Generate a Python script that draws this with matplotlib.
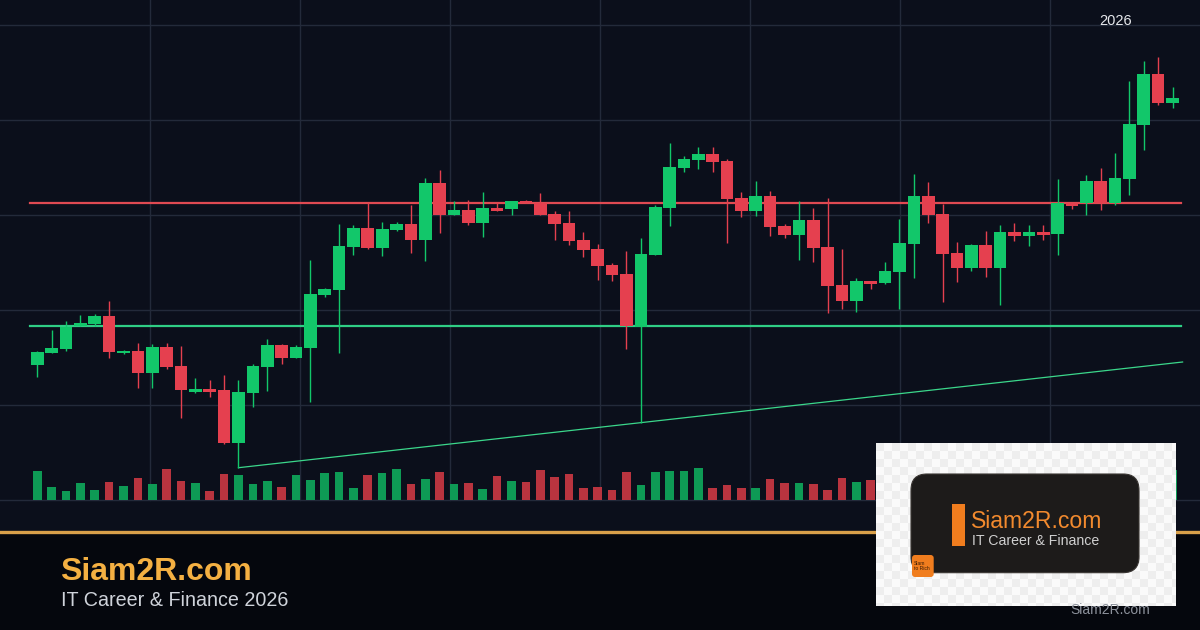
import matplotlib
matplotlib.use("Agg")
import matplotlib.pyplot as plt
import numpy as np
from matplotlib.patches import FancyBboxPatch, Rectangle
from matplotlib.lines import Line2D

plt.rcParams['font.family'] = ['Liberation Sans', 'DejaVu Sans']

# OHLC in chart price units (bottom of the volume strip = 0)
opens = [135.3, 147.3, 151.3, 174.3, 176.3, 184, 146.7, 149, 127.3, 153,
         134, 108.3, 111, 110, 57, 107.3, 133.3, 155, 142.3, 152.3,
         205.3, 210.3, 253.3, 272, 252.3, 270.3, 276, 260, 317, 285.3,
         290, 277.3, 292, 291.3, 299, 297, 286, 277.3, 260, 251,
         235, 226, 173.3, 244.7, 292.3, 332.3, 340, 346, 339, 302,
         289.3, 304, 274, 265.3, 280, 253, 215, 199.3, 219, 217,
         228, 256, 304, 286, 247, 232, 255, 232, 268, 264,
         268, 266, 297, 297, 319, 297, 321, 375, 426, 397.3]
highs = [149.3, 170, 178.7, 185.3, 186, 199, 150, 157.3, 155.7, 157.3,
         154, 121.7, 120, 125, 120, 135.7, 161, 156, 155, 240,
         212.3, 276, 275, 296.7, 278, 278, 295, 322, 330, 299,
         300, 308, 296.7, 299, 300, 307, 289, 289, 268, 256,
         236.7, 248.7, 262, 295, 356.7, 344, 353, 353, 341, 308,
         319, 309, 276.3, 299, 292, 302, 251, 222, 219, 238,
         281, 326, 318, 296, 258, 256, 269, 275, 277, 275,
         275, 321, 297, 325, 332, 347, 419, 439, 443, 413]
lows = [123.3, 146.7, 148.7, 174.3, 174.3, 142.3, 146, 112.3, 112.3, 131.3,
        82.3, 107.3, 103.3, 56, 32.3, 93.3, 109.3, 135.7, 142, 98.3,
        203.3, 147.3, 245, 251.3, 244.3, 269.3, 247.3, 239.3, 267.3, 285.3,
        275.3, 263.3, 289.3, 284.7, 297, 285.3, 260, 255.3, 243.3, 220.3,
        219.3, 151.3, 77.3, 244.7, 274.3, 328.3, 331.3, 328.3, 257.3, 283.3,
        284.3, 264.3, 262.3, 240.3, 238.3, 187.3, 191.3, 188.3, 211.3, 216,
        191.3, 222.3, 277, 198.3, 218.3, 229.3, 223.3, 195.3, 259, 254,
        260, 245, 291, 285, 290, 295, 305, 350, 395, 392]
closes = [148, 152, 173.3, 177, 184, 148.3, 149.3, 127.3, 152.7, 133.3,
          110.3, 111, 108.3, 57, 108, 134, 155, 142.3, 153, 206,
          211, 254, 272, 252, 271, 276, 260, 317, 285.3, 290,
          277.3, 292, 289.3, 299, 297, 285.3, 276.3, 259.3, 250.3, 234.3,
          225.3, 174.3, 246, 293, 333, 341, 346, 338, 301, 289.3,
          304, 273.3, 265.3, 280, 252.3, 214.3, 199.3, 219, 216.3, 229,
          257, 304, 285, 246, 232, 255, 232, 268, 264, 268,
          265, 297, 294, 319, 297, 322, 376, 426, 397, 402]
volumes = [29, 13, 9, 17, 10, 18, 14, 22, 16, 31,
           19, 17, 9, 26, 25, 16, 19, 13, 25, 20,
           27, 28, 12, 25, 27, 31, 16, 21, 28, 16,
           17, 11, 24, 19, 18, 30, 23, 26, 12, 13,
           10, 28, 15, 28, 29, 29, 32, 12, 15, 12,
           12, 21, 17, 17, 16, 10, 22, 18, 20, 14,
           22, 27, 20, 25, 16, 12, 15, 18, 24, 11,
           13, 10, 26, 12, 20, 17, 22, 30, 28, 30]

resistance = 297
support = 174
trend_x = [14, 79.7]
trend_y = [32.3, 138]

BG = '#0b0f1b'
FOOT = '#05070d'
GRID = '#232a3a'
UP = '#12c76a'
DOWN = '#e5404f'
VUP = '#0e9a55'
VDOWN = '#b9343f'

W, H = 1200, 630
fig = plt.figure(figsize=(12, 6.3), dpi=100, facecolor=BG)
fig.patches.append(Rectangle((0, 0), 1, 1 - 531 / H, transform=fig.transFigure,
                             facecolor=FOOT, edgecolor='none', zorder=0))

# price panel
ax = fig.add_axes([0, 1 - 530 / H, 1, 530 / H])
ax.set_facecolor(BG)
n = len(opens)
x = np.arange(n)
step = 14.37
x0 = -37.3 / step
x1 = x0 + W / step
ax.set_xlim(x0, x1)
ax.set_ylim(-30, 500)
for s in ax.spines.values():
    s.set_visible(False)
ax.set_xticks([])
ax.set_yticks([])

for g in np.arange(0, 500, 95):
    ax.axhline(g, color=GRID, lw=1, zorder=0)
for k in range(1, 8):
    ax.plot([x0 + (x1 - x0) * k / 8] * 2, [0, 500], color=GRID, lw=1, zorder=0)

ax.axhline(resistance, xmin=30 / W, xmax=1181 / W, color='#e04a52', lw=1.6, zorder=1)
ax.axhline(support, xmin=30 / W, xmax=1181 / W, color='#2fce85', lw=1.6, zorder=1)
ax.plot(trend_x, trend_y, color='#3bd78b', lw=0.9, zorder=1)

o = np.array(opens)
c = np.array(closes)
up = c >= o
cols = np.where(up, UP, DOWN)
ax.vlines(x, lows, highs, colors=cols, lw=1, zorder=2)
body = np.maximum(np.abs(c - o), 1.5)
ax.bar(x, body, bottom=np.minimum(o, c), width=0.88, color=cols, zorder=3)

# volume strip
axv = fig.add_axes([0, 1 - 500 / H, 1, 60 / H])
axv.patch.set_alpha(0)
axv.set_xlim(x0, x1)
axv.set_ylim(0, 60)
axv.axis('off')
axv.bar(x, volumes, width=0.6, color=np.where(up, VUP, VDOWN))

fig.text(1116 / W, 1 - 25 / H, '2026', color='#e6e8ec', fontsize=10.5,
         ha='center', va='baseline')

# footer
fig.add_artist(Line2D([0, 1], [1 - 531.5 / H] * 2, transform=fig.transFigure,
                      color='#d9a04a', lw=2.4, zorder=1))
fig.text(60 / W, 1 - 579.5 / H, 'Siam2R.com', color='#f4b042', fontsize=23,
         fontweight='bold', va='baseline')
fig.text(61 / W, 1 - 606.5 / H, 'IT Career & Finance 2026', color='#cfd3da',
         fontsize=14.2, va='baseline')

# logo card
axl = fig.add_axes([876 / W, 1 - 606 / H, 300 / W, 163 / H])
axl.set_zorder(5)
axl.axis('off')
cy, cx = np.indices((21, 38))
checker = ((cy + cx) % 2) * 0.05 + 0.93
axl.imshow(checker, cmap='gray', vmin=0, vmax=1, extent=[876, 1180, 611, 443],
           interpolation='nearest', aspect='auto')
axl.set_xlim(876, 1176)
axl.set_ylim(606, 443)
axl.add_patch(FancyBboxPatch((911, 474), 228, 98.7,
                             boxstyle='round,pad=0,rounding_size=16',
                             facecolor='#1d1b1a', edgecolor='#3a3633', lw=0.8))
axl.add_patch(Rectangle((952, 504), 12.7, 41.7, facecolor='#f07d1e'))
axl.text(971, 521, 'Siam2R.com', color='#f28a2e', fontsize=16.6, va='center')
axl.text(972, 541, 'IT Career & Finance', color='#d0d0d0', fontsize=10.2, va='center')
axl.add_patch(FancyBboxPatch((912, 555), 21.7, 22,
                             boxstyle='round,pad=0,rounding_size=3',
                             facecolor='#f07d1e', edgecolor='none'))
axl.text(914, 566, 'Siam\nto Rich', color='#3b1c05', fontsize=3.6,
         va='center', linespacing=1.1)

fig.text(1070 / W, 1 - 610.5 / H, 'Siam2R.com', color='#8d929c', fontsize=10,
         va='center', zorder=10)

fig.savefig('out.png', dpi=100, facecolor=BG)
